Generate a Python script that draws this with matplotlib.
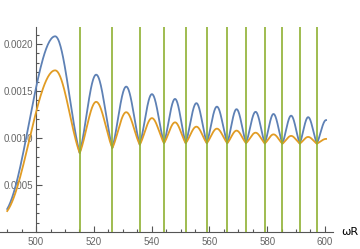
import numpy as np
import matplotlib
matplotlib.use("Agg")
import matplotlib.pyplot as plt
from matplotlib.ticker import MultipleLocator, FixedLocator

# values
start_x = 490.0
start_blue = 0.000245
start_orange = 0.000223

# green resonance lines, the curves touch their minima here
resonance_x = [515.1, 526.4, 535.9, 544.3, 551.8, 559.1, 566.2, 572.7, 579.2, 585.3, 591.3, 597.2]
trough_y = [0.000840, 0.000894, 0.000929, 0.000945, 0.000945, 0.000945,
            0.000945, 0.000945, 0.000942, 0.000940, 0.000940, 0.000940]

peak_x = [506.6, 520.8, 531.2, 540.1, 548.1, 555.5, 562.6, 569.4, 576.0, 582.2, 588.3, 594.2, 600.4]
peak_blue = [0.002081, 0.001673, 0.001546, 0.001466, 0.001415, 0.001370, 0.001333,
             0.001306, 0.001278, 0.001255, 0.001237, 0.001221, 0.001190]
peak_orange = [0.001719, 0.001384, 0.001274, 0.001211, 0.001166, 0.001120, 0.001099,
               0.001078, 0.001056, 0.001038, 0.001022, 0.001011, 0.000990]

BLUE = "#5e81b5"
ORANGE = "#e19c24"
GREEN = "#8fb032"
AXIS = "#555555"


def rise(t, sharp):
    # 0 -> 1, flat at the top, `sharp` sets how pointed the low end is
    return sharp * np.sin(np.pi / 2 * t) + (1 - sharp) * (1 - np.cos(np.pi * t)) / 2


def build_curve(start_v, peaks):
    """join the read extrema with smooth arcs"""
    nodes = [(start_x, start_v), (peak_x[0], peaks[0])]
    for i in range(len(resonance_x)):
        nodes.append((resonance_x[i], trough_y[i]))
        nodes.append((peak_x[i + 1], peaks[i + 1]))
    xs, ys = [], []
    t = np.linspace(0, 1, 60)
    for k, ((xa, ya), (xb, yb)) in enumerate(zip(nodes[:-1], nodes[1:])):
        sharp = 0.3 if k == 0 else 0.5
        if yb > ya:
            y = ya + (yb - ya) * rise(t, sharp)
        else:
            y = yb + (ya - yb) * rise(1 - t, sharp)
        xs.extend(xa + (xb - xa) * t)
        ys.extend(y)
    return np.array(xs), np.array(ys)


fig = plt.figure(figsize=(3.6, 2.49), dpi=100)
ax = fig.add_axes([0, 17 / 249, 333 / 360, 205 / 249])
ax.set_xlim(487.5, 602.8)
ax.set_ylim(0, 0.00218)

bx, by = build_curve(start_blue, peak_blue)
ox, oy = build_curve(start_orange, peak_orange)
ax.plot(bx, by, color=BLUE, lw=1.3, zorder=3)
ax.plot(ox, oy, color=ORANGE, lw=1.3, zorder=3)
for xv in resonance_x:
    ax.axvline(xv, color=GREEN, lw=1.2, zorder=4)

for side in ["top", "right"]:
    ax.spines[side].set_visible(False)
ax.spines["left"].set_position(("data", 500))
ax.spines["bottom"].set_position(("data", 0))
for side in ["left", "bottom"]:
    ax.spines[side].set_color(AXIS)
    ax.spines[side].set_linewidth(0.8)

ax.xaxis.set_major_locator(MultipleLocator(20))
ax.xaxis.set_minor_locator(MultipleLocator(5))
ax.yaxis.set_major_locator(FixedLocator([0.0005, 0.0010, 0.0015, 0.0020]))
ax.yaxis.set_minor_locator(MultipleLocator(0.0001))
ax.yaxis.set_major_formatter(plt.FormatStrFormatter("%.4f"))
ax.tick_params(which="both", direction="in", color=AXIS, width=0.8,
               labelcolor="#666666", labelsize=7)
ax.tick_params(which="major", length=4)
ax.tick_params(which="minor", length=2)
ax.tick_params(axis="y", pad=2)
ax.tick_params(axis="x", pad=3.5)
for lab in ax.get_xticklabels() + ax.get_yticklabels():
    lab.set_fontfamily("Liberation Sans")

ax.annotate("ωR", xy=(1, 0), xycoords="axes fraction", xytext=(6, 0),
            textcoords="offset points", va="center", ha="left", fontsize=8,
            annotation_clip=False)

fig.savefig("out.png", dpi=100)
